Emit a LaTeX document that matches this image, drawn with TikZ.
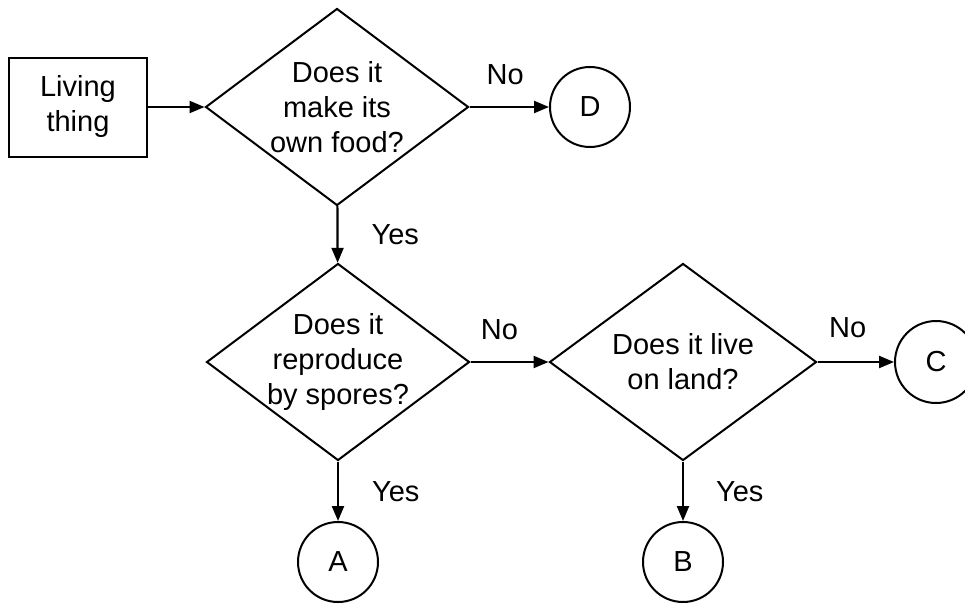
\documentclass[tikz,border=0pt]{standalone}
\usepackage{fontspec}
\setmainfont{Liberation Sans}
\usetikzlibrary{shapes.geometric,arrows.meta}
\begin{document}
\begin{tikzpicture}[x=1pt,y=-1pt,
  every node/.style={font=\fontsize{29}{35}\selectfont, align=center},
  startbox/.style={draw, line width=2pt, minimum width=138pt, minimum height=99pt, inner sep=0pt},
  question/.style={diamond, draw, line width=2pt, aspect=1.335, inner sep=-5pt, minimum width=263pt, minimum height=197pt},
  endpoint/.style={circle, draw, line width=2pt, minimum size=80pt, inner sep=0pt},
  link/.style={line width=2.2pt, -{Triangle[length=15pt,width=12pt]}},
  lbl/.style={inner sep=0pt}]
\useasboundingbox (0,0) rectangle (965,610);
\node[startbox] (living) at (78,107) {Living\\thing};
\node[question] (food) at (337,107) {Does it\\make its\\own food?};
\node[endpoint] (d) at (590,107) {D};
\draw[link](living) -- (food);
\draw[link](food) -- node[lbl, above=21pt, xshift=-4pt]{No} (d);
\node[question] (spores) at (338,362) {Does it\\reproduce\\by spores?};
\draw[link](food) -- node[lbl, right=33pt]{Yes} (spores);
\node[question, minimum width=267pt] (land) at (683,362) {Does it live\\on land?};
\draw[link](spores) -- node[lbl, above=21pt, xshift=-10pt]{No} (land);
\node[endpoint, minimum size=82pt] (c) at (936,362) {C};
\draw[link](land) -- node[lbl, above=23pt, xshift=-8pt]{No} (c);
\node[endpoint] (a) at (338,562) {A};
\draw[link](spores) -- node[lbl, right=33pt]{Yes} (a);
\node[endpoint] (b) at (683,562) {B};
\draw[link](land) -- node[lbl, right=32pt]{Yes} (b);
\end{tikzpicture}
\end{document}
